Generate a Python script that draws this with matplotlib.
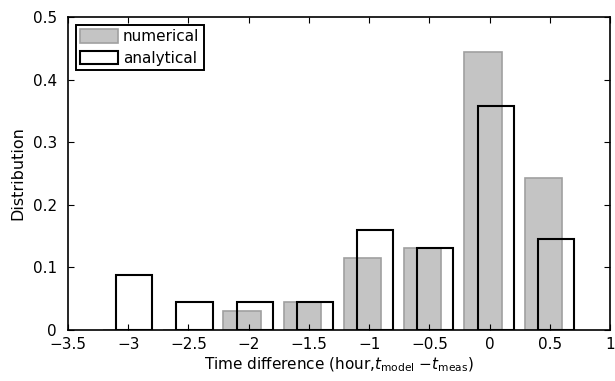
import numpy as np
import matplotlib.pyplot as plt

plt.rcParams['font.family'] = 'DejaVu Sans'
plt.rcParams['mathtext.fontset'] = 'dejavusans'

# bin centres (hours) and relative frequencies
bins = [-3.0, -2.5, -2.0, -1.5, -1.0, -0.5, 0.0, 0.5]
numerical = [0.0, 0.0, 0.030, 0.045, 0.115, 0.131, 0.444, 0.243]
analytical = [0.088, 0.045, 0.045, 0.045, 0.160, 0.131, 0.358, 0.145]

x = np.array(bins)

fig = plt.figure(figsize=(6.15, 3.81), dpi=100)
ax = fig.add_axes([0.1106, 0.134, 0.8814, 0.821])

ax.bar(x - 0.055, numerical, width=0.31, color='#c4c4c4', edgecolor='#a0a0a0',
       linewidth=1.2, label='numerical')
ax.bar(x + 0.05, analytical, width=0.30, color='none', edgecolor='black',
       linewidth=1.5, label='analytical')

ax.set_xlim(-3.5, 1)
ax.set_ylim(0, 0.5)
ax.set_xticks([-3.5, -3, -2.5, -2, -1.5, -1, -0.5, 0, 0.5, 1])
ax.set_xticklabels(['\u22123.5', '\u22123', '\u22122.5', '\u22122', '\u22121.5',
                    '\u22121', '\u22120.5', '0', '0.5', '1'])
ax.set_yticks([0, 0.1, 0.2, 0.3, 0.4, 0.5])
ax.set_yticklabels(['0', '0.1', '0.2', '0.3', '0.4', '0.5'])
ax.tick_params(direction='in', top=True, right=True, labelsize=11, length=4)
ax.tick_params(axis='y', pad=8)
ax.tick_params(axis='x', pad=5)
for s in ax.spines.values():
    s.set_linewidth(1.2)

ax.set_xlabel('Time difference (hour,$t_{\\mathrm{model}}$ $-t_{\\mathrm{meas}}$)',
              fontsize=11, labelpad=3)
ax.set_ylabel('Distribution', fontsize=11.5, labelpad=5)

leg = ax.legend(loc='upper left', fontsize=11, fancybox=False, framealpha=1,
                edgecolor='black', handlelength=2.5, handleheight=1.0,
                borderaxespad=0.5, borderpad=0.3, labelspacing=0.4, handletextpad=0.3)
leg.get_frame().set_linewidth(1.4)

fig.savefig('out.png', dpi=100)
